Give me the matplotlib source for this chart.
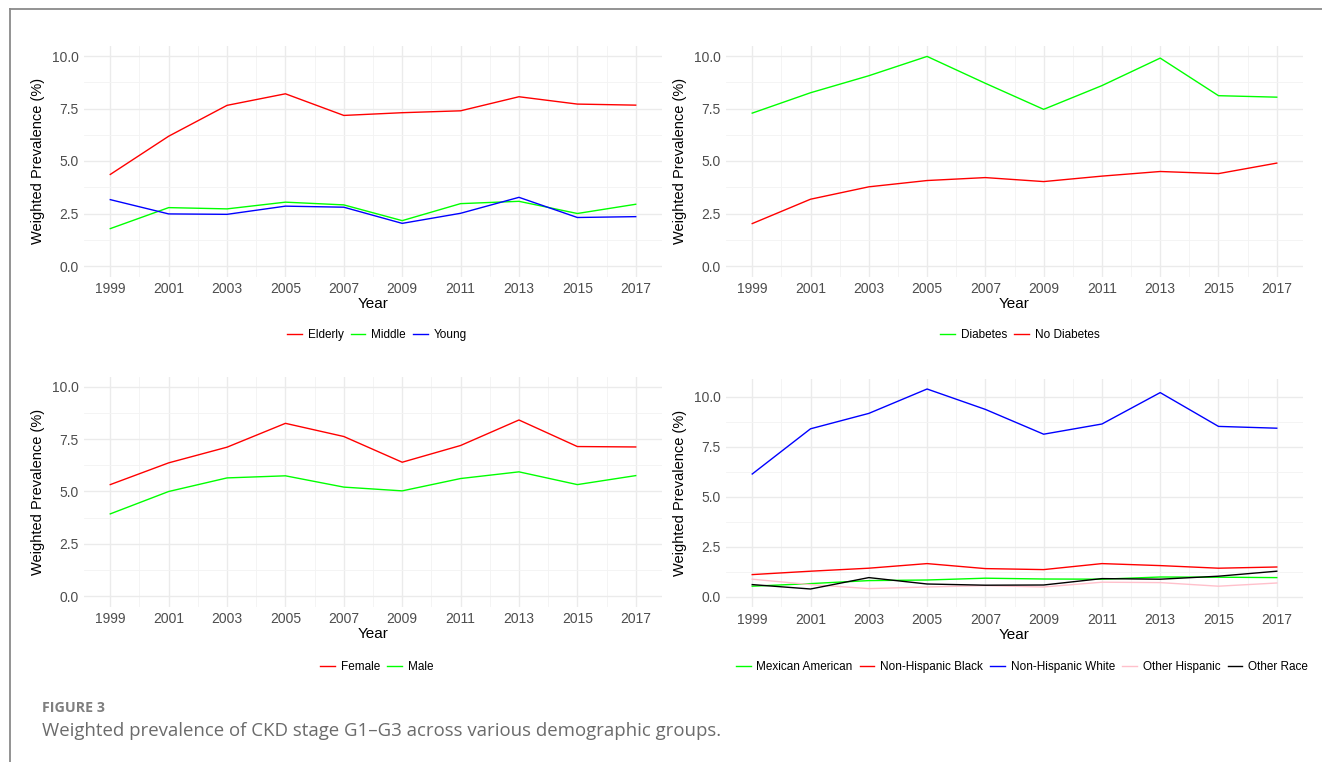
import matplotlib
matplotlib.use("Agg")
import matplotlib.pyplot as plt
from matplotlib.lines import Line2D
import numpy as np

years = [1999, 2001, 2003, 2005, 2007, 2009, 2011, 2013, 2015, 2017]

# age groups
elderly = [4.36, 6.18, 7.65, 8.20, 7.17, 7.30, 7.39, 8.06, 7.71, 7.66]
middle = [1.78, 2.78, 2.72, 3.04, 2.91, 2.16, 2.97, 3.08, 2.50, 2.94]
young = [3.16, 2.48, 2.46, 2.85, 2.80, 2.03, 2.51, 3.27, 2.31, 2.35]

# diabetes status
diabetes = [7.28, 8.25, 9.06, 9.98, 8.70, 7.46, 8.59, 9.90, 8.11, 8.04]
no_diabetes = [2.02, 3.18, 3.77, 4.07, 4.21, 4.02, 4.28, 4.50, 4.40, 4.90]

# sex
female = [5.33, 6.37, 7.12, 8.26, 7.63, 6.40, 7.20, 8.42, 7.15, 7.13]
male = [3.93, 5.00, 5.65, 5.75, 5.21, 5.03, 5.62, 5.94, 5.33, 5.76]

# race / ethnicity
mexican_american = [0.54, 0.67, 0.82, 0.85, 0.94, 0.90, 0.89, 1.00, 0.99, 0.97]
nh_black = [1.12, 1.29, 1.44, 1.67, 1.42, 1.37, 1.67, 1.57, 1.44, 1.50]
nh_white = [6.15, 8.41, 9.18, 10.40, 9.38, 8.14, 8.65, 10.22, 8.53, 8.44]
other_hispanic = [0.89, 0.62, 0.42, 0.50, 0.57, 0.50, 0.74, 0.72, 0.54, 0.70]
other_race = [0.62, 0.40, 0.97, 0.65, 0.59, 0.60, 0.92, 0.89, 1.04, 1.29]

W, H = 1322, 762
fig = plt.figure(figsize=(W / 100, H / 100), dpi=100)
plt.rcParams['font.family'] = ['Liberation Sans', 'DejaVu Sans']


def px_axes(left, top, right, bottom):
    return fig.add_axes([left / W, 1 - bottom / H, (right - left) / W, (bottom - top) / H])


def style(ax, ymax):
    ax.set_xlim(1999 - 0.9, 2017 + 0.9)
    ax.set_ylim(-0.05 * ymax, ymax * 1.05)
    ax.set_xticks(years)
    ax.set_xticks(np.arange(2000, 2017, 2), minor=True)
    ax.set_yticks([0, 2.5, 5, 7.5, 10])
    ax.set_yticklabels(["0.0", "2.5", "5.0", "7.5", "10.0"])
    ax.set_yticks([1.25, 3.75, 6.25, 8.75], minor=True)
    ax.grid(which='major', color='#ebebeb', lw=1.0)
    ax.grid(which='minor', color='#f3f3f3', lw=0.6)
    ax.set_axisbelow(True)
    for s in ax.spines.values():
        s.set_visible(False)
    ax.tick_params(which='both', length=0, labelsize=10, labelcolor='#4d4d4d', pad=4)
    ax.set_xlabel("Year", fontsize=11, labelpad=1)
    ax.set_ylabel("Weighted Prevalence (%)", fontsize=10.5, labelpad=5)


def add_legend(ax, cx, cy):
    ax.legend(loc='center', bbox_to_anchor=(cx / W, 1 - cy / H), bbox_transform=fig.transFigure,
              ncol=5, frameon=False, fontsize=8.5, handlelength=1.25, handletextpad=0.5,
              columnspacing=0.6)


ax1 = px_axes(84, 45.5, 662, 276.5)
ax1.plot(years, elderly, color='red', lw=1, label='Elderly')
ax1.plot(years, middle, color='#00ff00', lw=1, label='Middle')
ax1.plot(years, young, color='blue', lw=1, label='Young')
style(ax1, 10)
add_legend(ax1, 377, 335)

ax2 = px_axes(726, 45.5, 1303, 276.5)
ax2.plot(years, diabetes, color='#00ff00', lw=1, label='Diabetes')
ax2.plot(years, no_diabetes, color='red', lw=1, label='No Diabetes')
style(ax2, 10)
add_legend(ax2, 1020, 335)

ax3 = px_axes(84, 376.5, 662, 606.5)
ax3.plot(years, female, color='red', lw=1, label='Female')
ax3.plot(years, male, color='#00ff00', lw=1, label='Male')
style(ax3, 10)
add_legend(ax3, 377, 667)

ax4 = px_axes(726, 378.6, 1303, 607.4)
ax4.plot(years, mexican_american, color='#00ff00', lw=1, label='Mexican American')
ax4.plot(years, nh_black, color='red', lw=1, label='Non-Hispanic Black')
ax4.plot(years, nh_white, color='blue', lw=1, label='Non-Hispanic White')
ax4.plot(years, other_hispanic, color='pink', lw=1, label='Other Hispanic')
ax4.plot(years, other_race, color='black', lw=1, label='Other Race')
style(ax4, max(nh_white))
add_legend(ax4, 1022, 667)

# frame border (left and top)
fig.add_artist(Line2D([10 / W, 10 / W], [0, 1 - 9 / H], transform=fig.transFigure,
                      color='#8a8a8a', lw=1.3))
fig.add_artist(Line2D([10 / W, 1], [1 - 9 / H, 1 - 9 / H], transform=fig.transFigure,
                      color='#8a8a8a', lw=1.3))

fig.text(42 / W, 1 - 708 / H, "FIGURE 3", family='Open Sans', fontweight='bold',
         fontsize=10.3, color='#7f7f7f', va='center')
fig.text(42 / W, 1 - 731 / H,
         "Weighted prevalence of CKD stage G1\u2013G3 across various demographic groups.",
         family='Open Sans', fontsize=13.4, color='#6b6b6b', va='center')

fig.savefig("out.png", dpi=100)
